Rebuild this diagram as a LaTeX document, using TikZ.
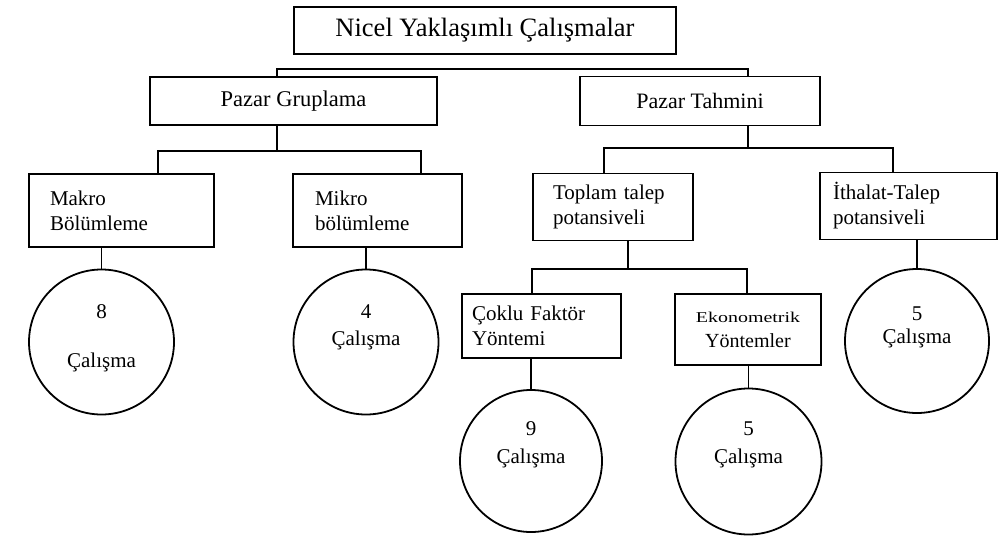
\documentclass[tikz,border=0pt]{standalone}
\usepackage{fontspec}
\setmainfont{Liberation Serif}
\usetikzlibrary{calc}
\begin{document}
\begin{tikzpicture}[x=1pt,y=-1pt,line width=1.8pt,
  box/.style={draw, rectangle, inner ysep=0pt, font=\fontsize{21}{25}\selectfont},
  cbox/.style={box, align=center},
  lbox/.style 2 args={box, align=left, text width=#1, inner xsep=#2},
  circ/.style={draw, circle, inner sep=0pt},
  ctext/.style={anchor=base, inner sep=0pt, font=\fontsize{21}{25}\selectfont}]
\useasboundingbox (0,0) rectangle (1004,538);

% top level
\node[box, font=\fontsize{26.5}{30}\selectfont, minimum width=382pt, minimum height=47pt]
  (top) at (485,30.5) {Nicel Yaklaşımlı Çalışmalar};

% second level
\node[cbox, font=\fontsize{22.5}{26}\selectfont, minimum width=287pt, minimum height=48pt]
  (pg) at (293.5,101) {Pazar Gruplama};
\node[cbox, font=\fontsize{22}{26}\selectfont, minimum width=240pt, minimum height=49pt]
  (pt) at (700,101) {Pazar Tahmini};

% third level
\node[lbox={143pt}{21pt}, minimum height=73pt] (makro) at (121.5,210.5) {Makro\\Bölümleme};
\node[lbox={125pt}{22pt}, minimum height=73pt] (mikro) at (377.5,210.5) {Mikro\\bölümleme};
\node[lbox={120pt}{20pt}, minimum height=67pt] (toplam) at (613,207) {Toplam talep\\potansiveli};
\node[lbox={151pt}{13pt}, minimum height=67pt] (ithalat) at (908.5,206) {İthalat-Talep\\potansiveli};

% fourth level
\node[lbox={139pt}{10pt}, minimum height=64pt] (coklu) at (541.5,326) {Çoklu Faktör\\Yöntemi};
\node[cbox, font=\fontsize{20}{25}\selectfont, minimum width=146pt, minimum height=71pt]
  (ekon) at (748,329.5) {\scalebox{1.33}[1]{\fontsize{15}{18}\selectfont Ekonometrik}\\Yöntemler};

% study counts
\node[circ, minimum size=145pt] (c8) at (101.5,342) {};
\node[circ, minimum size=145pt] (c4) at (366,342) {};
\node[circ, minimum size=144pt] (c5b) at (917,341) {};
\node[circ, minimum size=142pt] (c9) at (531,461) {};
\node[circ, minimum size=146pt] (c5a) at (748.5,461.5) {};

\node[ctext] (n8) at ($(c8)+(0,-24)$) {8};
\node[ctext] (t8) at ($(c8)+(0,25)$) {Çalışma};
\node[ctext] (n4) at ($(c4)+(0,-24)$) {4};
\node[ctext] (t4) at ($(c4)+(0,3)$) {Çalışma};
\node[ctext] (n5b) at ($(c5b)+(0,-21)$) {5};
\node[ctext] (t5b) at ($(c5b)+(0,2)$) {Çalışma};
\node[ctext] (n9) at ($(c9)+(0,-26)$) {9};
\node[ctext] (t9) at ($(c9)+(0,2)$) {Çalışma};
\node[ctext] (n5a) at ($(c5a)+(0,-26)$) {5};
\node[ctext] (t5a) at ($(c5a)+(0,2)$) {Çalışma};

% junction points of the connectors
\coordinate (j1) at (277,69);
\coordinate (j2) at (748,69);
\coordinate (g0) at (277,151);
\coordinate (g1) at (158,151);
\coordinate (g2) at (421,151);
\coordinate (h0) at (748,148);
\coordinate (h1) at (604,148);
\coordinate (h2) at (893,148);
\coordinate (k0) at (628,269);
\coordinate (k1) at (532,269);
\coordinate (k2) at (747,269);

% connectors
\draw (j1 |- pg.north) -- (j1) -- (j2) -- (j2 |- pt.north);
\draw (g0 |- pg.south) -- (g0);
\draw (g1 |- makro.north) -- (g1) -- (g2) -- (g2 |- mikro.north);
\draw (h0 |- pt.south) -- (h0);
\draw (h1 |- toplam.north) -- (h1) -- (h2) -- (h2 |- ithalat.north);
\draw (k0 |- toplam.south) -- (k0);
\draw (k1 |- coklu.north) -- (k1) -- (k2) -- (k2 |- ekon.north);
\draw (c8.north |- makro.south) -- (c8.north);
\draw (c4.north |- mikro.south) -- (c4.north);
\draw (c5b.north |- ithalat.south) -- (c5b.north);
\draw (c9.north |- coklu.south) -- (c9.north);
\draw (c5a.north |- ekon.south) -- (c5a.north);
\end{tikzpicture}
\end{document}
